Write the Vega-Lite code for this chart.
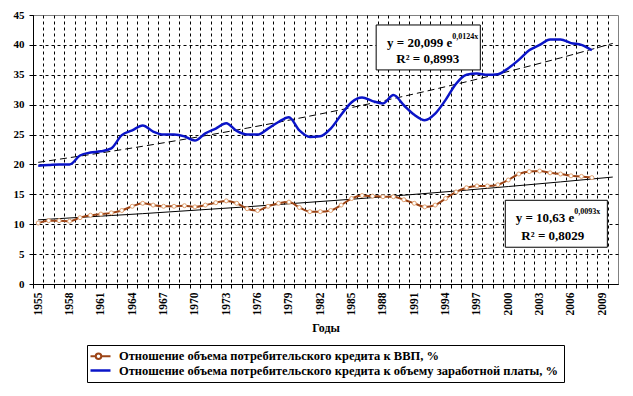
{
  "$schema": "https://vega.github.io/schema/vega-lite/v6.json",
  "width": 585,
  "height": 269,
  "autosize": "none",
  "padding": {"left": 33, "top": 15, "right": 15, "bottom": 112},
  "background": "white",
  "config": {
    "font": "Liberation Serif",
    "view": {"stroke": "#808080", "strokeWidth": 1},
    "axis": {
      "labelFont": "Liberation Serif",
      "labelFontWeight": "bold",
      "labelColor": "black",
      "domainColor": "black",
      "tickColor": "black",
      "tickSize": 4,
      "gridColor": "black",
      "gridDash": [3, 3],
      "gridWidth": 1,
      "gridOpacity": 1
    }
  },
  "datasets": {
    "series": [
      {"year": 1955, "series": "gdp", "value": 10.2}, {"year": 1956, "series": "gdp", "value": 10.6}, {"year": 1957, "series": "gdp", "value": 10.6}, {"year": 1958, "series": "gdp", "value": 10.5}, {"year": 1959, "series": "gdp", "value": 11.1}, {"year": 1960, "series": "gdp", "value": 11.5}, {"year": 1961, "series": "gdp", "value": 11.7}, {"year": 1962, "series": "gdp", "value": 11.9}, {"year": 1963, "series": "gdp", "value": 12.3}, {"year": 1964, "series": "gdp", "value": 13.0}, {"year": 1965, "series": "gdp", "value": 13.5}, {"year": 1966, "series": "gdp", "value": 13.2}, {"year": 1967, "series": "gdp", "value": 13.0}, {"year": 1968, "series": "gdp", "value": 13.0}, {"year": 1969, "series": "gdp", "value": 13.1}, {"year": 1970, "series": "gdp", "value": 12.9}, {"year": 1971, "series": "gdp", "value": 13.2}, {"year": 1972, "series": "gdp", "value": 13.6}, {"year": 1973, "series": "gdp", "value": 13.9}, {"year": 1974, "series": "gdp", "value": 13.5}, {"year": 1975, "series": "gdp", "value": 12.6}, {"year": 1976, "series": "gdp", "value": 12.3}, {"year": 1977, "series": "gdp", "value": 13.0}, {"year": 1978, "series": "gdp", "value": 13.5}, {"year": 1979, "series": "gdp", "value": 13.7}, {"year": 1980, "series": "gdp", "value": 12.8}, {"year": 1981, "series": "gdp", "value": 12.1}, {"year": 1982, "series": "gdp", "value": 12.1}, {"year": 1983, "series": "gdp", "value": 12.3}, {"year": 1984, "series": "gdp", "value": 13.2}, {"year": 1985, "series": "gdp", "value": 14.3}, {"year": 1986, "series": "gdp", "value": 14.8}, {"year": 1987, "series": "gdp", "value": 14.7}, {"year": 1988, "series": "gdp", "value": 14.6}, {"year": 1989, "series": "gdp", "value": 14.6}, {"year": 1990, "series": "gdp", "value": 14.1}, {"year": 1991, "series": "gdp", "value": 13.5}, {"year": 1992, "series": "gdp", "value": 12.9}, {"year": 1993, "series": "gdp", "value": 13.2}, {"year": 1994, "series": "gdp", "value": 14.3}, {"year": 1995, "series": "gdp", "value": 15.4}, {"year": 1996, "series": "gdp", "value": 16.1}, {"year": 1997, "series": "gdp", "value": 16.4}, {"year": 1998, "series": "gdp", "value": 16.4}, {"year": 1999, "series": "gdp", "value": 16.6}, {"year": 2000, "series": "gdp", "value": 17.4}, {"year": 2001, "series": "gdp", "value": 18.4}, {"year": 2002, "series": "gdp", "value": 18.8}, {"year": 2003, "series": "gdp", "value": 18.9}, {"year": 2004, "series": "gdp", "value": 18.6}, {"year": 2005, "series": "gdp", "value": 18.4}, {"year": 2006, "series": "gdp", "value": 18.1}, {"year": 2007, "series": "gdp", "value": 18.0}, {"year": 2008, "series": "gdp", "value": 17.8},
      {"year": 1955, "series": "wage", "value": 19.8}, {"year": 1956, "series": "wage", "value": 19.9}, {"year": 1957, "series": "wage", "value": 20.0}, {"year": 1958, "series": "wage", "value": 20.0}, {"year": 1959, "series": "wage", "value": 21.5}, {"year": 1960, "series": "wage", "value": 22.0}, {"year": 1961, "series": "wage", "value": 22.2}, {"year": 1962, "series": "wage", "value": 22.7}, {"year": 1963, "series": "wage", "value": 24.9}, {"year": 1964, "series": "wage", "value": 25.7}, {"year": 1965, "series": "wage", "value": 26.5}, {"year": 1966, "series": "wage", "value": 25.5}, {"year": 1967, "series": "wage", "value": 25.0}, {"year": 1968, "series": "wage", "value": 25.0}, {"year": 1969, "series": "wage", "value": 24.7}, {"year": 1970, "series": "wage", "value": 24.0}, {"year": 1971, "series": "wage", "value": 25.2}, {"year": 1972, "series": "wage", "value": 26.0}, {"year": 1973, "series": "wage", "value": 26.9}, {"year": 1974, "series": "wage", "value": 25.6}, {"year": 1975, "series": "wage", "value": 25.0}, {"year": 1976, "series": "wage", "value": 25.0}, {"year": 1977, "series": "wage", "value": 26.0}, {"year": 1978, "series": "wage", "value": 27.1}, {"year": 1979, "series": "wage", "value": 27.9}, {"year": 1980, "series": "wage", "value": 25.7}, {"year": 1981, "series": "wage", "value": 24.6}, {"year": 1982, "series": "wage", "value": 24.7}, {"year": 1983, "series": "wage", "value": 26.0}, {"year": 1984, "series": "wage", "value": 28.3}, {"year": 1985, "series": "wage", "value": 30.4}, {"year": 1986, "series": "wage", "value": 31.2}, {"year": 1987, "series": "wage", "value": 30.6}, {"year": 1988, "series": "wage", "value": 30.2}, {"year": 1989, "series": "wage", "value": 31.6}, {"year": 1990, "series": "wage", "value": 29.9}, {"year": 1991, "series": "wage", "value": 28.3}, {"year": 1992, "series": "wage", "value": 27.4}, {"year": 1993, "series": "wage", "value": 28.5}, {"year": 1994, "series": "wage", "value": 30.8}, {"year": 1995, "series": "wage", "value": 33.5}, {"year": 1996, "series": "wage", "value": 35.0}, {"year": 1997, "series": "wage", "value": 35.2}, {"year": 1998, "series": "wage", "value": 35.0}, {"year": 1999, "series": "wage", "value": 35.1}, {"year": 2000, "series": "wage", "value": 36.1}, {"year": 2001, "series": "wage", "value": 37.5}, {"year": 2002, "series": "wage", "value": 39.1}, {"year": 2003, "series": "wage", "value": 40.0}, {"year": 2004, "series": "wage", "value": 40.9}, {"year": 2005, "series": "wage", "value": 40.9}, {"year": 2006, "series": "wage", "value": 40.3}, {"year": 2007, "series": "wage", "value": 40.0}, {"year": 2008, "series": "wage", "value": 39.1}
    ],
    "trend": [
      {"year": 1955, "trend": "wage", "value": 20.35}, {"year": 1965, "trend": "wage", "value": 23.04}, {"year": 1975, "trend": "wage", "value": 26.08}, {"year": 1985, "trend": "wage", "value": 29.52}, {"year": 1995, "trend": "wage", "value": 33.42}, {"year": 2005, "trend": "wage", "value": 37.83}, {"year": 2010, "trend": "wage", "value": 40.25},
      {"year": 1955, "trend": "gdp", "value": 10.73}, {"year": 1965, "trend": "gdp", "value": 11.77}, {"year": 1975, "trend": "gdp", "value": 12.92}, {"year": 1985, "trend": "gdp", "value": 14.18}, {"year": 1995, "trend": "gdp", "value": 15.56}, {"year": 2005, "trend": "gdp", "value": 17.08}, {"year": 2010, "trend": "gdp", "value": 17.89}
    ]
  },
  "layer": [
    {
      "data": {"name": "trend"},
      "transform": [{"filter": "datum.trend == 'wage'"}],
      "mark": {"type": "line", "color": "black", "strokeWidth": 1, "strokeDash": [7, 4], "interpolate": "monotone"},
      "encoding": {
        "x": {
          "field": "year", "type": "quantitative",
          "scale": {"domain": [1954.5, 2010.5], "nice": false, "zero": false},
          "axis": {
            "values": [1954.5, 1955.5, 1956.5, 1957.5, 1958.5, 1959.5, 1960.5, 1961.5, 1962.5, 1963.5, 1964.5, 1965.5, 1966.5, 1967.5, 1968.5, 1969.5, 1970.5, 1971.5, 1972.5, 1973.5, 1974.5, 1975.5, 1976.5, 1977.5, 1978.5, 1979.5, 1980.5, 1981.5, 1982.5, 1983.5, 1984.5, 1985.5, 1986.5, 1987.5, 1988.5, 1989.5, 1990.5, 1991.5, 1992.5, 1993.5, 1994.5, 1995.5, 1996.5, 1997.5, 1998.5, 1999.5, 2000.5, 2001.5, 2002.5, 2003.5, 2004.5, 2005.5, 2006.5, 2007.5, 2008.5, 2009.5],
            "tickCount": 200,
            "labelExpr": "(datum.value + 0.5 - 1955) % 3 == 0 ? '' + (datum.value + 0.5) : ''",
            "labelAngle": 270,
            "labelOffset": 5.2,
            "labelOverlap": false,
            "labelFlush": false,
            "labelFontSize": 11.5,
            "labelPadding": 4,
            "grid": true,
            "title": "Годы",
            "titleFont": "Liberation Serif",
            "titleFontSize": 12,
            "titleFontWeight": "bold",
            "titleColor": "black",
            "titlePadding": 7
          }
        },
        "y": {
          "field": "value", "type": "quantitative",
          "scale": {"domain": [0, 45], "nice": false},
          "axis": {
            "values": [0, 5, 10, 15, 20, 25, 30, 35, 40, 45],
            "tickCount": 50,
            "grid": true,
            "gridOpacity": {"condition": {"test": "datum.value == 45", "value": 0}, "value": 1},
            "labelFontSize": 11,
            "labelPadding": 5,
            "labelOverlap": false,
            "title": null
          }
        }
      }
    },
    {
      "data": {"name": "trend"},
      "transform": [{"filter": "datum.trend == 'gdp'"}],
      "mark": {"type": "line", "color": "black", "strokeWidth": 1, "interpolate": "monotone"},
      "encoding": {
        "x": {"field": "year", "type": "quantitative"},
        "y": {"field": "value", "type": "quantitative"}
      }
    },
    {
      "data": {"name": "series"},
      "mark": {"type": "line", "interpolate": "monotone"},
      "encoding": {
        "x": {"field": "year", "type": "quantitative"},
        "y": {"field": "value", "type": "quantitative"},
        "color": {
          "field": "series", "type": "nominal",
          "scale": {"domain": ["gdp", "wage"], "range": ["#9C4416", "#0A14C8"]},
          "legend": {
            "orient": "none",
            "legendX": 54,
            "legendY": 330,
            "title": null,
            "direction": "vertical",
            "strokeColor": "black",
            "fillColor": "white",
            "padding": 5,
            "labelFont": "Liberation Serif",
            "labelFontWeight": "bold",
            "labelFontSize": 12.5,
            "labelColor": "black",
            "labelLimit": 700,
            "labelOffset": 14,
            "symbolType": "stroke",
            "symbolSize": 100,
            "symbolStrokeWidth": 2,
            "rowPadding": 1,
            "labelExpr": "datum.value == 'gdp' ? 'Отношение объема потребительского кредита к ВВП, %' : 'Отношение объема потребительского кредита к объему заработной платы, %'",
            "encode": {
              "symbols": {
                "update": {
                  "shape": {"signal": "datum.value == 'gdp' ? 'M-1.6,0H-0.55M0.55,0H2.4M0.55,0A0.55,0.55 0 1 1 -0.55,0A0.55,0.55 0 1 1 0.55,0' : 'M-1.6,0H2.4'"},
                  "fill": {"value": "white"}
                }
              }
            }
          }
        },
        "strokeWidth": {
          "field": "series", "type": "nominal",
          "scale": {"domain": ["gdp", "wage"], "range": [2, 2.5]},
          "legend": null
        }
      }
    },
    {
      "data": {"name": "series"},
      "transform": [{"filter": "datum.series == 'gdp'"}],
      "mark": {"type": "point", "shape": "circle", "filled": true, "fill": "white", "stroke": "#E0A070", "strokeWidth": 1, "size": 16, "opacity": 1},
      "encoding": {
        "x": {"field": "year", "type": "quantitative"},
        "y": {"field": "value", "type": "quantitative"}
      }
    },
    {
      "data": {"values": [{}]},
      "mark": {"type": "rect", "fill": "white", "stroke": "black", "strokeWidth": 1},
      "encoding": {
        "x": {"datum": 1987.35, "type": "quantitative"},
        "x2": {"datum": 1997.32},
        "y": {"datum": 43.33, "type": "quantitative"},
        "y2": {"datum": 35.81}
      }
    },
    {
      "data": {"values": [{}]},
      "mark": {"type": "rect", "fill": "white", "stroke": "black", "strokeWidth": 1},
      "encoding": {
        "x": {"datum": 1999.71, "type": "quantitative"},
        "x2": {"datum": 2009.48},
        "y": {"datum": 14.0, "type": "quantitative"},
        "y2": {"datum": 6.15}
      }
    },
    {
      "data": {"values": [{}]},
      "mark": {"type": "text", "font": "Liberation Serif", "fontWeight": "bold", "fontSize": 13, "align": "right", "baseline": "middle", "color": "black", "text": "y = 20,099 e"},
      "encoding": {
        "x": {"datum": 1994.63, "type": "quantitative"},
        "y": {"datum": 40.3, "type": "quantitative"}
      }
    },
    {
      "data": {"values": [{}]},
      "mark": {"type": "text", "font": "Liberation Serif", "fontWeight": "bold", "fontSize": 8, "align": "left", "baseline": "middle", "dy": -6, "color": "black", "text": "0,0124x"},
      "encoding": {
        "x": {"datum": 1994.63, "type": "quantitative"},
        "y": {"datum": 40.3, "type": "quantitative"}
      }
    },
    {
      "data": {"values": [{}]},
      "mark": {"type": "text", "font": "Liberation Serif", "fontWeight": "bold", "fontSize": 13, "align": "center", "baseline": "middle", "color": "black", "text": "R² = 0,8993"},
      "encoding": {
        "x": {"datum": 1992.29, "type": "quantitative"},
        "y": {"datum": 37.6, "type": "quantitative"}
      }
    },
    {
      "data": {"values": [{}]},
      "mark": {"type": "text", "font": "Liberation Serif", "fontWeight": "bold", "fontSize": 13, "align": "right", "baseline": "middle", "color": "black", "text": "y = 10,63 e"},
      "encoding": {
        "x": {"datum": 2006.32, "type": "quantitative"},
        "y": {"datum": 11.0, "type": "quantitative"}
      }
    },
    {
      "data": {"values": [{}]},
      "mark": {"type": "text", "font": "Liberation Serif", "fontWeight": "bold", "fontSize": 8, "align": "left", "baseline": "middle", "dy": -6, "color": "black", "text": "0,0093x"},
      "encoding": {
        "x": {"datum": 2006.32, "type": "quantitative"},
        "y": {"datum": 11.0, "type": "quantitative"}
      }
    },
    {
      "data": {"values": [{}]},
      "mark": {"type": "text", "font": "Liberation Serif", "fontWeight": "bold", "fontSize": 13, "align": "center", "baseline": "middle", "color": "black", "text": "R² = 0,8029"},
      "encoding": {
        "x": {"datum": 2004.26, "type": "quantitative"},
        "y": {"datum": 8.0, "type": "quantitative"}
      }
    }
  ]
}
